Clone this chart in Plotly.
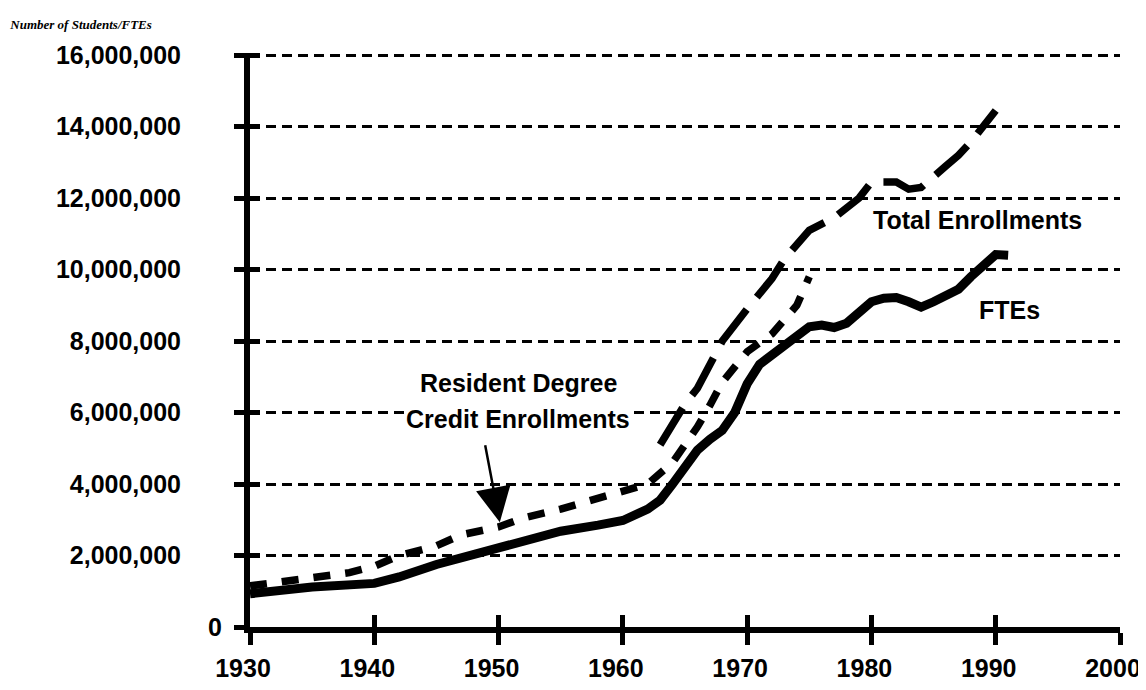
import plotly.graph_objects as go

# FTEs (solid heavy line)
fte_years = [1930, 1932, 1935, 1940, 1942, 1945, 1949, 1950, 1952, 1955, 1958, 1960,
             1962, 1963, 1964, 1965, 1966, 1967, 1968, 1969, 1970, 1971, 1972, 1973,
             1974, 1975, 1976, 1977, 1978, 1979, 1980, 1981, 1982, 1983, 1984, 1985,
             1986, 1987, 1988, 1989, 1990, 1991]
fte_values = [0.93, 1.0, 1.12, 1.22, 1.4, 1.75, 2.14, 2.25, 2.45, 2.68, 2.85, 2.98,
              3.3, 3.55, 4.0, 4.5, 4.95, 5.25, 5.5, 6.0, 6.8, 7.35, 7.6, 7.85,
              8.1, 8.4, 8.45, 8.38, 8.5, 8.8, 9.1, 9.2, 9.22, 9.1, 8.95, 9.1,
              9.3, 9.45, 9.8, 10.1, 10.42, 10.4]

# Resident degree credit enrollments (short dashes)
res_years = [1930, 1933, 1935, 1938, 1940, 1942, 1945, 1947, 1950, 1952, 1955, 1958,
             1960, 1962, 1964, 1966, 1967, 1968, 1970, 1972, 1974, 1975]
res_values = [1.15, 1.27, 1.4, 1.52, 1.7, 2.0, 2.27, 2.58, 2.8, 3.05, 3.3, 3.6,
              3.8, 4.0, 4.6, 5.6, 6.2, 6.85, 7.7, 8.2, 9.0, 9.8]

# Total enrollments (long dashes)
tot_years = [1963, 1965, 1966, 1967, 1968, 1970, 1972, 1973, 1975, 1977, 1979, 1980,
             1982, 1983, 1984, 1986, 1987, 1988, 1989, 1990]
tot_values = [5.1, 6.24, 6.68, 7.3, 8.0, 8.9, 9.75, 10.3, 11.1, 11.45, 12.0, 12.45,
              12.45, 12.25, 12.3, 12.9, 13.2, 13.57, 14.0, 14.45]

x_ticks = [1930, 1940, 1950, 1960, 1970, 1980, 1990, 2000]
y_ticks = [0, 2e6, 4e6, 6e6, 8e6, 10e6, 12e6, 14e6, 16e6]
y_ticktext = ["" if v == 0 else f"{int(v):,}" for v in y_ticks]

M = 1e6
X_RANGE = [1930, 2000]
Y_RANGE = [0, 16.06e6]  # a hair above 16M so the top gridline is kept
bold = dict(family="Liberation Sans", size=25, color="black", weight="bold")

fig = go.Figure()

# resident line sits on the overlay x axis, total on the overlay y axis:
# same ranges, but it makes plotly draw the inner half of the crossing ticks
fig.add_trace(go.Scatter(
    x=res_years, y=[v * M for v in res_values], mode="lines", xaxis="x2", yaxis="y",
    line=dict(color="black", width=7.5, dash="17px,15px"), hoverinfo="skip"))
fig.add_trace(go.Scatter(
    x=tot_years, y=[v * M for v in tot_values], mode="lines", xaxis="x", yaxis="y2",
    line=dict(color="black", width=7.5, dash="43px,16px"), hoverinfo="skip"))
fig.add_trace(go.Scatter(
    x=fte_years, y=[v * M for v in fte_values], mode="lines",
    line=dict(color="black", width=9), hoverinfo="skip"))

# page body has an 8px margin, so the figure is 8px smaller than the window
fig.update_layout(
    width=1138, height=682,
    margin=dict(l=242, r=26, t=45, b=63),
    paper_bgcolor="white", plot_bgcolor="white",
    showlegend=False,
    title=dict(
        text="Number of Students/FTEs",
        x=0.002, xanchor="left", xref="container",
        y=0.976, yanchor="middle", yref="container",
        font=dict(family="Liberation Serif", size=13, color="black",
                  style="italic", weight="bold")),
    xaxis=dict(
        range=X_RANGE, tickvals=x_ticks, automargin=False,
        ticks="outside", ticklen=12, tickwidth=5, tickcolor="black",
        showline=True, linewidth=6, linecolor="black",
        showgrid=False, zeroline=False,
        tickfont=bold, ticklabelshift=-7, ticklabelstandoff=2),
    xaxis2=dict(
        range=X_RANGE, tickvals=x_ticks, overlaying="x", anchor="y", side="bottom",
        automargin=False, ticks="inside", ticklen=12, tickwidth=5, tickcolor="black",
        showticklabels=False, showline=False, showgrid=False, zeroline=False),
    yaxis=dict(
        range=Y_RANGE, tickvals=y_ticks, ticktext=y_ticktext, automargin=False,
        ticks="outside", ticklen=10, tickwidth=5, tickcolor="black",
        showline=True, linewidth=6, linecolor="black",
        showgrid=True, gridcolor="black", gridwidth=3, griddash="10px,6px",
        zeroline=False, tickfont=bold, ticklabelstandoff=48),
    yaxis2=dict(
        range=Y_RANGE, tickvals=y_ticks, overlaying="y", anchor="x", side="left",
        automargin=False, ticks="inside", ticklen=10, tickwidth=5, tickcolor="black",
        showticklabels=False, showline=False, showgrid=False, zeroline=False),
)

# the "0" label sits closer to the axis than the others
fig.add_annotation(x=1930, y=0, text="0", showarrow=False,
                   xanchor="right", yanchor="middle", xshift=-26, font=bold)

fig.add_annotation(x=1988.5, y=11.4 * M, text="Total Enrollments", showarrow=False,
                   xanchor="center", yanchor="middle", font=bold)
fig.add_annotation(x=1991.1, y=8.87 * M, text="FTEs", showarrow=False,
                   xanchor="center", yanchor="middle", font=bold)
fig.add_annotation(x=1951.6, y=6.83 * M, text="Resident Degree", showarrow=False,
                   xanchor="center", yanchor="middle", font=bold)
fig.add_annotation(x=1951.6, y=5.83 * M, text="Credit Enrollments", showarrow=False,
                   xanchor="center", yanchor="middle", font=bold, bgcolor="white")

# arrow pointing at the resident enrollment line
fig.add_annotation(x=1950.1, y=2.93 * M, ax=1948.9, ay=5.13 * M,
                   axref="x", ayref="y", text="", showarrow=True,
                   arrowhead=2, arrowsize=2.8, arrowwidth=2.5, arrowcolor="black")

fig.write_html("out.html")
